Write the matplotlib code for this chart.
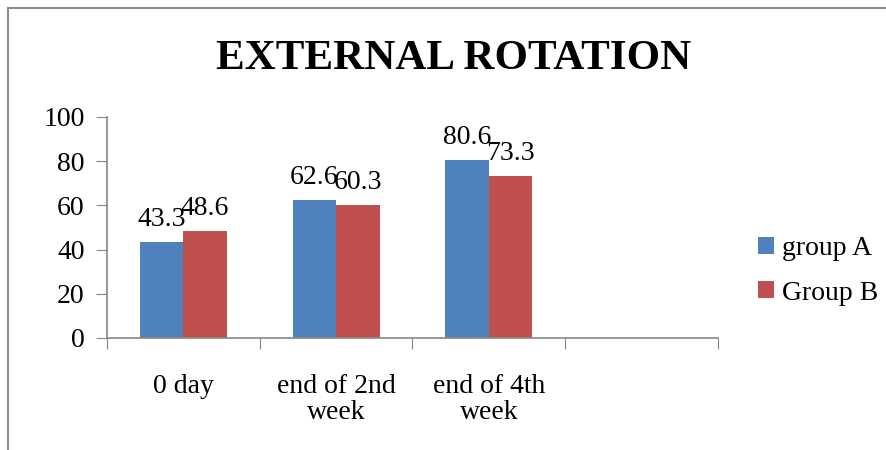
import numpy as np
import matplotlib.pyplot as plt
from matplotlib.patches import Rectangle

plt.rcParams['font.family'] = ['Liberation Serif', 'DejaVu Serif']

categories = ['0 day', 'end of 2nd\nweek', 'end of 4th\nweek', '']
group_a = [43.3, 62.6, 80.6]
group_b = [48.6, 60.3, 73.3]
yticks = [0, 20, 40, 60, 80, 100]

blue = '#4F81BD'
red = '#C0504D'
axis_gray = '#868686'

fig = plt.figure(figsize=(8.87, 4.5), dpi=100)
ax = fig.add_axes([0.1206, 0.249, 0.8095 - 0.1206, 0.491])

# outer chart border (only left/top visible in original)
fig.patches.append(Rectangle((0.009, -0.2), 1.5, 0.982 + 0.2, transform=fig.transFigure,
                             fill=False, edgecolor='#8c8c8c', linewidth=1.5))

x = np.arange(len(group_a))
w = 0.285
ba = ax.bar(x - w / 2, group_a, w, color=blue, label='group A')
bb = ax.bar(x + w / 2, group_b, w, color=red, label='Group B')

for bars, vals in ((ba, group_a), (bb, group_b)):
    for b, v in zip(bars, vals):
        ax.text(b.get_x() + b.get_width() / 2, v + 4.5, f'{v}', ha='center', va='bottom',
                fontsize=20)

ax.set_xlim(-0.5, len(categories) - 0.5)
ax.set_ylim(0, 100)
ax.set_yticks(yticks)
ax.set_xticks(np.arange(len(categories) + 1) - 0.5, minor=False)
ax.set_xticklabels([])
ax.set_xticks(np.arange(len(categories)), minor=True)
ax.set_xticklabels(categories, minor=True, fontsize=20, linespacing=1.05)
ax.tick_params(axis='x', which='minor', length=0, pad=26)
ax.tick_params(axis='x', which='major', length=8, color=axis_gray, direction='out')
ax.tick_params(axis='y', length=8, color=axis_gray, labelsize=20, pad=8)

for s in ('top', 'right'):
    ax.spines[s].set_visible(False)
for s in ('left', 'bottom'):
    ax.spines[s].set_color(axis_gray)
    ax.spines[s].set_linewidth(1.2)

fig.text(0.511, 0.868, 'EXTERNAL ROTATION', ha='center', va='center', fontsize=31,
         fontweight='bold')

ax.legend(loc='center left', bbox_to_anchor=(0.855, 0.398), bbox_transform=fig.transFigure,
          frameon=False, fontsize=20, handlelength=0.55, handleheight=0.55,
          handletextpad=0.3, labelspacing=0.7, borderpad=0, borderaxespad=0)

fig.savefig('out.png', dpi=100)
